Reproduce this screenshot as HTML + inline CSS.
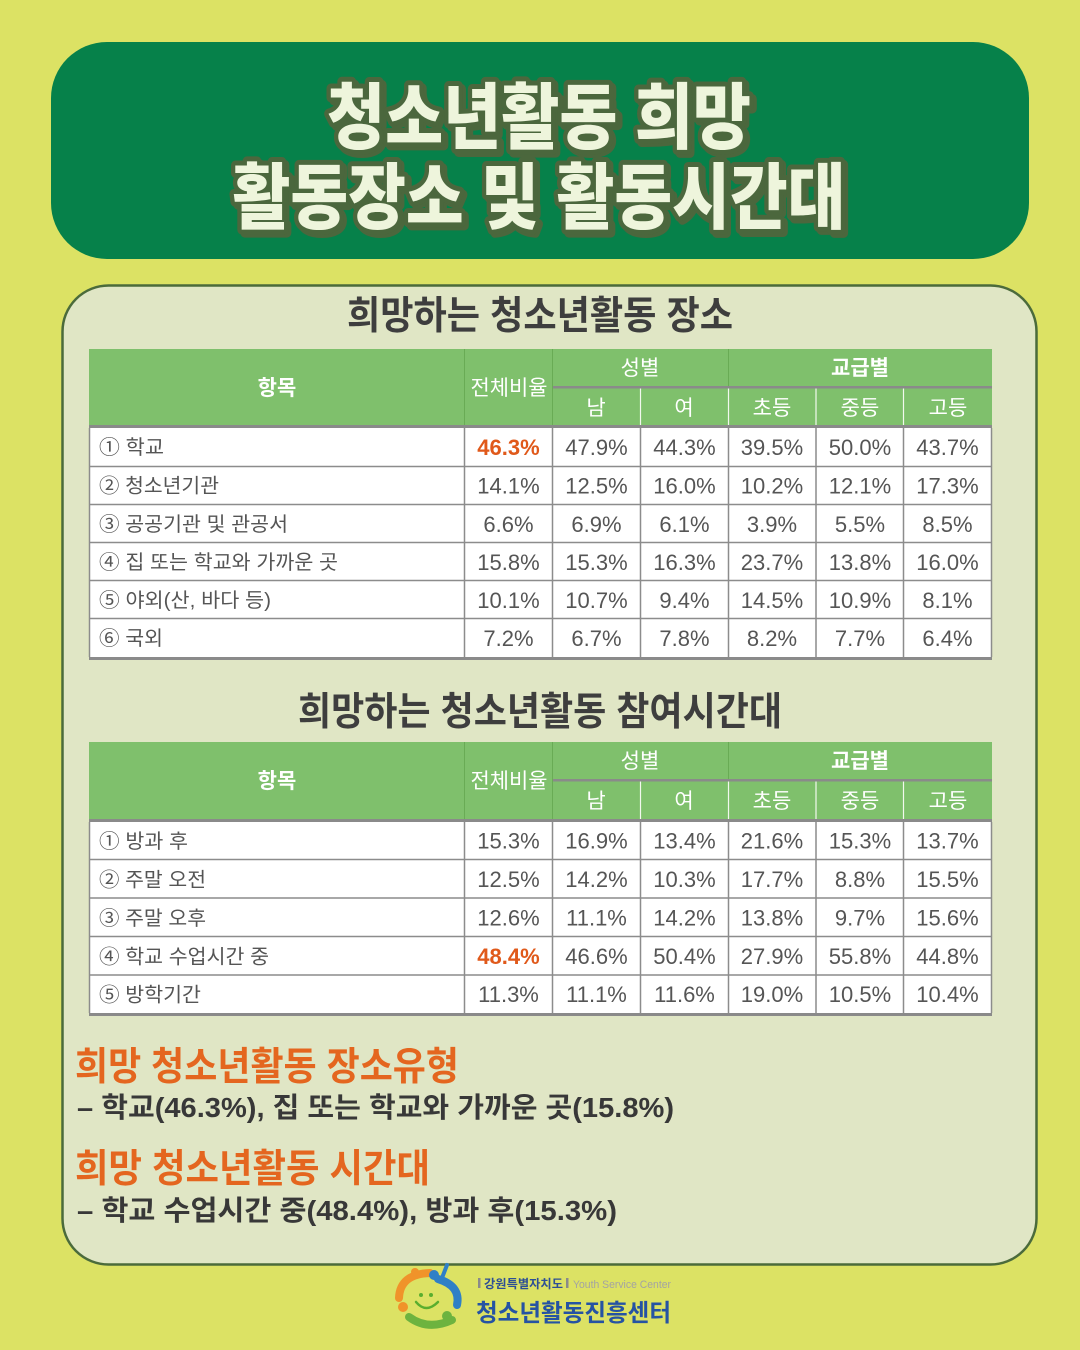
<!DOCTYPE html>
<html lang="ko">
<head>
<meta charset="utf-8">
<style>
html,body{margin:0;padding:0;background:#dce264;}
svg{display:block;}
</style>
</head>
<body>
<svg width="1080" height="1350" viewBox="0 0 1080 1350" xmlns="http://www.w3.org/2000/svg">
<rect x="0" y="0" width="1080" height="1350" fill="#dce264"/>

<!-- Banner -->
<rect x="51" y="42" width="978" height="217" rx="56" ry="56" fill="#06814a"/>
<g font-family="'Liberation Sans','Noto Sans CJK KR',sans-serif" font-weight="900" font-size="72" text-anchor="middle" stroke-linejoin="round">
  <text x="542" y="146" textLength="424" lengthAdjust="spacingAndGlyphs" fill="#4b673d" stroke="#4b673d" stroke-width="10">청소년활동 희망</text>
  <text x="542" y="226" textLength="613" lengthAdjust="spacingAndGlyphs" fill="#4b673d" stroke="#4b673d" stroke-width="10">활동장소 및 활동시간대</text>
  <text x="539" y="143" textLength="424" lengthAdjust="spacingAndGlyphs" fill="#eef5dc" stroke="#4b673d" stroke-width="10" paint-order="stroke">청소년활동 희망</text>
  <text x="539" y="223" textLength="613" lengthAdjust="spacingAndGlyphs" fill="#eef5dc" stroke="#4b673d" stroke-width="10" paint-order="stroke">활동장소 및 활동시간대</text>
</g>

<!-- Panel -->
<rect x="62.5" y="285.5" width="974" height="979" rx="46" ry="46" fill="#e0e6c5" stroke="#4b6b3b" stroke-width="2.5"/>

<!-- Section titles -->
<g font-family="'Liberation Sans','Noto Sans CJK KR',sans-serif" font-weight="700" font-size="39" fill="#3e3e3e" text-anchor="middle">
  <text x="540" y="329" textLength="386" lengthAdjust="spacingAndGlyphs">희망하는 청소년활동 장소</text>
  <text x="540" y="725" textLength="484" lengthAdjust="spacingAndGlyphs">희망하는 청소년활동 참여시간대</text>
</g>

<!-- ============ TABLE 1 ============ -->
<g>
  <rect x="89" y="349" width="903" height="78" fill="#7fc06c"/>
  <rect x="89" y="427" width="903" height="232" fill="#ffffff"/>
  <!-- header lines -->
  <rect x="552" y="386" width="440" height="2.5" fill="#8a8a8a"/>
  <line x1="464.5" y1="349" x2="464.5" y2="426" stroke="#69ab55" stroke-width="1"/>
  <line x1="552.5" y1="349" x2="552.5" y2="426" stroke="#69ab55" stroke-width="1"/>
  <line x1="728.5" y1="349" x2="728.5" y2="386" stroke="#69ab55" stroke-width="1"/>
  <g stroke="#f2f8ee" stroke-width="1.2">
    <line x1="640.5" y1="388.5" x2="640.5" y2="426"/>
    <line x1="728.5" y1="388.5" x2="728.5" y2="426"/>
    <line x1="816" y1="388.5" x2="816" y2="426"/>
    <line x1="903.5" y1="388.5" x2="903.5" y2="426"/>
  </g>
  <rect x="89" y="425" width="903" height="3" fill="#8a8a8a"/>
  <!-- data grid -->
  <g stroke="#8c8c8c" stroke-width="1.5">
    <line x1="89" y1="466.5" x2="992" y2="466.5"/>
    <line x1="89" y1="504.5" x2="992" y2="504.5"/>
    <line x1="89" y1="542.5" x2="992" y2="542.5"/>
    <line x1="89" y1="580.5" x2="992" y2="580.5"/>
    <line x1="89" y1="618.5" x2="992" y2="618.5"/>
    <line x1="89.5" y1="428" x2="89.5" y2="657"/>
    <line x1="464.5" y1="428" x2="464.5" y2="657"/>
    <line x1="552.5" y1="428" x2="552.5" y2="657"/>
    <line x1="640.5" y1="428" x2="640.5" y2="657"/>
    <line x1="728.5" y1="428" x2="728.5" y2="657"/>
    <line x1="816" y1="428" x2="816" y2="657"/>
    <line x1="903.5" y1="428" x2="903.5" y2="657"/>
    <line x1="991.5" y1="428" x2="991.5" y2="657"/>
  </g>
  <rect x="89" y="657" width="903" height="3" fill="#8a8a8a"/>

  <!-- header text -->
  <g font-family="'Liberation Sans','Noto Sans CJK KR',sans-serif" fill="#ffffff" text-anchor="middle" font-size="21">
    <text x="277" y="395" font-weight="700">항목</text>
    <text x="509" y="395" textLength="77" lengthAdjust="spacingAndGlyphs">전체비율</text>
    <text x="640" y="375">성별</text>
    <text x="860" y="375" font-weight="700">교급별</text>
    <text x="596" y="415">남</text>
    <text x="684" y="415">여</text>
    <text x="772" y="415">초등</text>
    <text x="860" y="415">중등</text>
    <text x="948" y="415">고등</text>
  </g>

  <!-- labels -->
  <g font-family="'Liberation Sans','Noto Sans CJK KR',sans-serif" fill="#555555" font-size="20" lengthAdjust="spacingAndGlyphs">
    <text x="99" y="454" textLength="65" lengthAdjust="spacingAndGlyphs">① 학교</text>
    <text x="99" y="492.5" textLength="120" lengthAdjust="spacingAndGlyphs">② 청소년기관</text>
    <text x="99" y="531" textLength="189" lengthAdjust="spacingAndGlyphs">③ 공공기관 및 관공서</text>
    <text x="99" y="569" textLength="239" lengthAdjust="spacingAndGlyphs">④ 집 또는 학교와 가까운 곳</text>
    <text x="99" y="607" textLength="172" lengthAdjust="spacingAndGlyphs">⑤ 야외(산, 바다 등)</text>
    <text x="99" y="645" textLength="64" lengthAdjust="spacingAndGlyphs">⑥ 국외</text>
  </g>

  <!-- numbers -->
  <g font-family="'Liberation Sans','Noto Sans CJK KR',sans-serif" fill="#555555" font-size="22" text-anchor="middle">
    <text x="508.5" y="455" fill="#e0591a" font-weight="700">46.3%</text>
    <text x="596.5" y="455">47.9%</text><text x="684.5" y="455">44.3%</text><text x="772" y="455">39.5%</text><text x="860" y="455">50.0%</text><text x="947.5" y="455">43.7%</text>

    <text x="508.5" y="493.5">14.1%</text><text x="596.5" y="493.5">12.5%</text><text x="684.5" y="493.5">16.0%</text><text x="772" y="493.5">10.2%</text><text x="860" y="493.5">12.1%</text><text x="947.5" y="493.5">17.3%</text>

    <text x="508.5" y="532">6.6%</text><text x="596.5" y="532">6.9%</text><text x="684.5" y="532">6.1%</text><text x="772" y="532">3.9%</text><text x="860" y="532">5.5%</text><text x="947.5" y="532">8.5%</text>

    <text x="508.5" y="570">15.8%</text><text x="596.5" y="570">15.3%</text><text x="684.5" y="570">16.3%</text><text x="772" y="570">23.7%</text><text x="860" y="570">13.8%</text><text x="947.5" y="570">16.0%</text>

    <text x="508.5" y="608">10.1%</text><text x="596.5" y="608">10.7%</text><text x="684.5" y="608">9.4%</text><text x="772" y="608">14.5%</text><text x="860" y="608">10.9%</text><text x="947.5" y="608">8.1%</text>

    <text x="508.5" y="646">7.2%</text><text x="596.5" y="646">6.7%</text><text x="684.5" y="646">7.8%</text><text x="772" y="646">8.2%</text><text x="860" y="646">7.7%</text><text x="947.5" y="646">6.4%</text>
  </g>
</g>

<!-- ============ TABLE 2 ============ -->
<g>
  <rect x="89" y="742" width="903" height="78" fill="#7fc06c"/>
  <rect x="89" y="820" width="903" height="196" fill="#ffffff"/>
  <rect x="552" y="779" width="440" height="2.5" fill="#8a8a8a"/>
  <line x1="464.5" y1="742" x2="464.5" y2="819" stroke="#69ab55" stroke-width="1"/>
  <line x1="552.5" y1="742" x2="552.5" y2="819" stroke="#69ab55" stroke-width="1"/>
  <line x1="728.5" y1="742" x2="728.5" y2="779" stroke="#69ab55" stroke-width="1"/>
  <g stroke="#f2f8ee" stroke-width="1.2">
    <line x1="640.5" y1="781.5" x2="640.5" y2="819"/>
    <line x1="728.5" y1="781.5" x2="728.5" y2="819"/>
    <line x1="816" y1="781.5" x2="816" y2="819"/>
    <line x1="903.5" y1="781.5" x2="903.5" y2="819"/>
  </g>
  <rect x="89" y="819" width="903" height="3" fill="#8a8a8a"/>
  <g stroke="#8c8c8c" stroke-width="1.5">
    <line x1="89" y1="859.5" x2="992" y2="859.5"/>
    <line x1="89" y1="898" x2="992" y2="898"/>
    <line x1="89" y1="936.5" x2="992" y2="936.5"/>
    <line x1="89" y1="975" x2="992" y2="975"/>
    <line x1="89.5" y1="822" x2="89.5" y2="1013"/>
    <line x1="464.5" y1="822" x2="464.5" y2="1013"/>
    <line x1="552.5" y1="822" x2="552.5" y2="1013"/>
    <line x1="640.5" y1="822" x2="640.5" y2="1013"/>
    <line x1="728.5" y1="822" x2="728.5" y2="1013"/>
    <line x1="816" y1="822" x2="816" y2="1013"/>
    <line x1="903.5" y1="822" x2="903.5" y2="1013"/>
    <line x1="991.5" y1="822" x2="991.5" y2="1013"/>
  </g>
  <rect x="89" y="1013" width="903" height="3" fill="#8a8a8a"/>

  <g font-family="'Liberation Sans','Noto Sans CJK KR',sans-serif" fill="#ffffff" text-anchor="middle" font-size="21">
    <text x="277" y="788" font-weight="700">항목</text>
    <text x="509" y="788" textLength="77" lengthAdjust="spacingAndGlyphs">전체비율</text>
    <text x="640" y="768">성별</text>
    <text x="860" y="768" font-weight="700">교급별</text>
    <text x="596" y="808">남</text>
    <text x="684" y="808">여</text>
    <text x="772" y="808">초등</text>
    <text x="860" y="808">중등</text>
    <text x="948" y="808">고등</text>
  </g>

  <g font-family="'Liberation Sans','Noto Sans CJK KR',sans-serif" fill="#555555" font-size="20">
    <text x="99" y="848" textLength="89" lengthAdjust="spacingAndGlyphs">① 방과 후</text>
    <text x="99" y="886.5" textLength="107" lengthAdjust="spacingAndGlyphs">② 주말 오전</text>
    <text x="99" y="925" textLength="107" lengthAdjust="spacingAndGlyphs">③ 주말 오후</text>
    <text x="99" y="963.5" textLength="170" lengthAdjust="spacingAndGlyphs">④ 학교 수업시간 중</text>
    <text x="99" y="1001.5" textLength="102" lengthAdjust="spacingAndGlyphs">⑤ 방학기간</text>
  </g>

  <g font-family="'Liberation Sans','Noto Sans CJK KR',sans-serif" fill="#555555" font-size="22" text-anchor="middle">
    <text x="508.5" y="848.5">15.3%</text><text x="596.5" y="848.5">16.9%</text><text x="684.5" y="848.5">13.4%</text><text x="772" y="848.5">21.6%</text><text x="860" y="848.5">15.3%</text><text x="947.5" y="848.5">13.7%</text>

    <text x="508.5" y="887">12.5%</text><text x="596.5" y="887">14.2%</text><text x="684.5" y="887">10.3%</text><text x="772" y="887">17.7%</text><text x="860" y="887">8.8%</text><text x="947.5" y="887">15.5%</text>

    <text x="508.5" y="925.5">12.6%</text><text x="596.5" y="925.5">11.1%</text><text x="684.5" y="925.5">14.2%</text><text x="772" y="925.5">13.8%</text><text x="860" y="925.5">9.7%</text><text x="947.5" y="925.5">15.6%</text>

    <text x="508.5" y="964" fill="#e0591a" font-weight="700">48.4%</text><text x="596.5" y="964">46.6%</text><text x="684.5" y="964">50.4%</text><text x="772" y="964">27.9%</text><text x="860" y="964">55.8%</text><text x="947.5" y="964">44.8%</text>

    <text x="508.5" y="1002">11.3%</text><text x="596.5" y="1002">11.1%</text><text x="684.5" y="1002">11.6%</text><text x="772" y="1002">19.0%</text><text x="860" y="1002">10.5%</text><text x="947.5" y="1002">10.4%</text>
  </g>
</g>

<!-- Summary -->
<g font-family="'Liberation Sans','Noto Sans CJK KR',sans-serif" font-weight="700">
  <text x="75" y="1080" font-size="39" fill="#e4661f" textLength="384" lengthAdjust="spacingAndGlyphs">희망 청소년활동 장소유형</text>
  <text x="77" y="1117" font-size="28" fill="#383838" textLength="597" lengthAdjust="spacingAndGlyphs">– 학교(46.3%), 집 또는 학교와 가까운 곳(15.8%)</text>
  <text x="75" y="1182" font-size="39" fill="#e4661f" textLength="355" lengthAdjust="spacingAndGlyphs">희망 청소년활동 시간대</text>
  <text x="77" y="1220" font-size="28" fill="#383838" textLength="540" lengthAdjust="spacingAndGlyphs">– 학교 수업시간 중(48.4%), 방과 후(15.3%)</text>
</g>

<!-- Logo -->
<g fill="none" stroke-linecap="round">
  <path d="M 430 1273 Q 400 1274 399 1298" stroke="#f0932a" stroke-width="8"/>
  <circle cx="403" cy="1307" r="5" fill="#f0932a" stroke="none"/>
  <circle cx="415" cy="1272" r="4" fill="#f0932a" stroke="none"/>
  <path d="M 438 1279 Q 461 1286 457 1305" stroke="#2f80c6" stroke-width="8"/>
  <path d="M 442 1278 L 447 1265" stroke="#2f80c6" stroke-width="4"/>
  <circle cx="434" cy="1275" r="5" fill="#2f80c6" stroke="none"/>
  <path d="M 409 1317 Q 428 1331 452 1320" stroke="#6db33f" stroke-width="8"/>
  <circle cx="447" cy="1316" r="5" fill="#6db33f" stroke="none"/>
  <circle cx="421" cy="1295" r="2" fill="#5aae2e" stroke="none"/>
  <circle cx="431" cy="1295" r="2" fill="#5aae2e" stroke="none"/>
  <path d="M 416 1302 Q 426 1314 438 1302" stroke="#5aae2e" stroke-width="2.5"/>
</g>
<rect x="478" y="1278" width="2.5" height="10" fill="#8a8a8a"/>
<rect x="566" y="1278" width="2.5" height="10" fill="#8a8a8a"/>
<g font-family="'Liberation Sans','Noto Sans CJK KR',sans-serif">
  <text x="484" y="1288" font-size="12" font-weight="700" fill="#2d4f95" textLength="79" lengthAdjust="spacingAndGlyphs">강원특별자치도</text>
  <text x="573" y="1288" font-size="11" fill="#a3a3a3" textLength="98" lengthAdjust="spacingAndGlyphs">Youth Service Center</text>
  <text x="476" y="1321" font-size="24" font-weight="700" fill="#2553a3" textLength="195" lengthAdjust="spacingAndGlyphs">청소년활동진흥센터</text>
</g>
</svg>
</body>
</html>
